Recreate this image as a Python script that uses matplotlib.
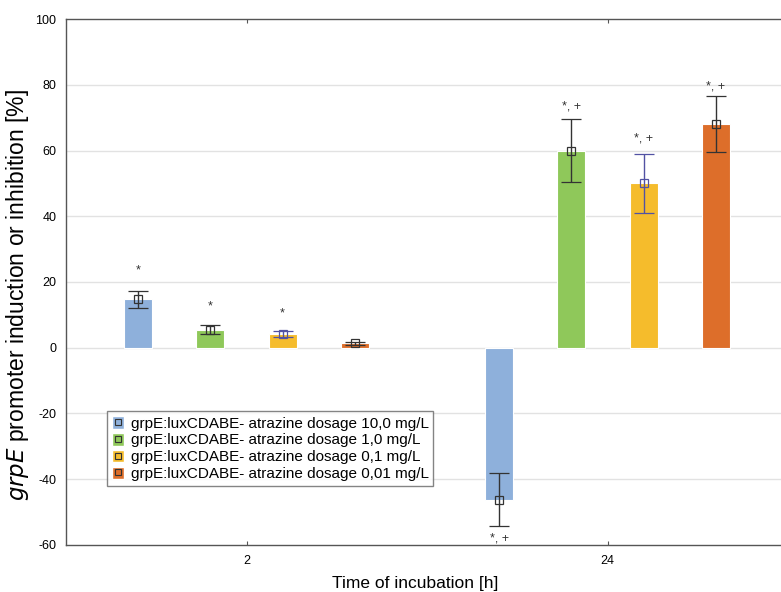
import matplotlib.pyplot as plt
from matplotlib.lines import Line2D
from matplotlib.patches import Patch

plt.rcParams["font.family"] = ["Liberation Sans", "DejaVu Sans"]
plt.rcParams["axes.unicode_minus"] = False

times = ["2", "24"]
series = [
    "grpE:luxCDABE- atrazine dosage 10,0 mg/L",
    "grpE:luxCDABE- atrazine dosage 1,0 mg/L",
    "grpE:luxCDABE- atrazine dosage 0,1 mg/L",
    "grpE:luxCDABE- atrazine dosage 0,01 mg/L",
]
colors = ["#8eb0db", "#8fc85a", "#f5bc2c", "#dd6e2a"]
err_colors = ["#333333", "#333333", "#5252a3", "#333333"]

# mean per series, one value per time point
means = [[14.8, -46.2], [5.5, 60.0], [4.2, 50.0], [1.4, 68.0]]
errs = [[2.6, 8.0], [1.3, 9.6], [0.9, 9.0], [0.5, 8.6]]
marks = [["*", "*, +"], ["*", "*, +"], ["*", "*, +"], ["", "*, +"]]
mark_y = [[23.5, -58.0], [12.5, 73.5], [10.5, 63.5], [None, 79.5]]

fig = plt.figure(figsize=(7.81, 5.92), dpi=100)
ax = fig.add_axes([0.0845, 0.0794, 0.9245, 0.8885])

width = 0.39
for i in range(len(series)):
    for j in range(len(times)):
        x = i + 5 * j
        m = means[i][j]
        ax.bar(x, m, width=width, color=colors[i], edgecolor="white",
               linewidth=0.8, zorder=2)
        ax.errorbar(x, m, yerr=errs[i][j], fmt="s", markersize=6,
                    markerfacecolor="none", markeredgecolor=err_colors[i],
                    markeredgewidth=0.9, ecolor=err_colors[i],
                    elinewidth=1.0, capsize=7, capthick=1.0, zorder=3)
        if marks[i][j]:
            ax.text(x, mark_y[i][j], marks[i][j], ha="center", va="center",
                    fontsize=9, color="#333333", zorder=4)

ax.set_xlim(-1, 9)
ax.set_ylim(-60, 100)
ax.set_xticks([1.5, 6.5])
ax.set_xticklabels(times)
ax.set_yticks(range(-60, 101, 20))
ax.tick_params(axis="x", direction="in", length=3, top=True, labelsize=9,
               pad=7, color="#555555")
ax.tick_params(axis="y", length=0, labelsize=9, pad=7)
for y in range(-40, 100, 20):
    ax.axhline(y, color="#e2e2e2", linewidth=1.0, zorder=0)
for side in ["left", "bottom", "top"]:
    ax.spines[side].set_color("#555555")
    ax.spines[side].set_linewidth(1.0)
ax.spines["right"].set_visible(False)

ax.set_xlabel("Time of incubation [h]", fontsize=12.5)
ax.xaxis.set_label_coords(0.483, -0.058)
ax.set_ylabel(r"$\it{grpE}$ promoter induction or inhibition [%]",
              fontsize=16.5)
ax.yaxis.set_label_coords(-0.048, 0.476)

handles = []
for i in range(len(series)):
    patch = Patch(facecolor=colors[i], edgecolor="white")
    sq = Line2D([], [], marker="s", linestyle="none", markersize=5,
                markerfacecolor="none", markeredgecolor="#333333",
                markeredgewidth=0.8)
    handles.append((patch, sq))
leg = ax.legend(handles, series, loc="upper left",
                bbox_to_anchor=(0.057, 0.254), fontsize=11,
                frameon=True, fancybox=False, handlelength=0.8,
                handleheight=0.9, handletextpad=0.45, borderpad=0.3,
                labelspacing=0.15, borderaxespad=0)
leg.get_frame().set_edgecolor("#666666")
leg.get_frame().set_linewidth(1.0)

fig.savefig("out.png", dpi=100)
